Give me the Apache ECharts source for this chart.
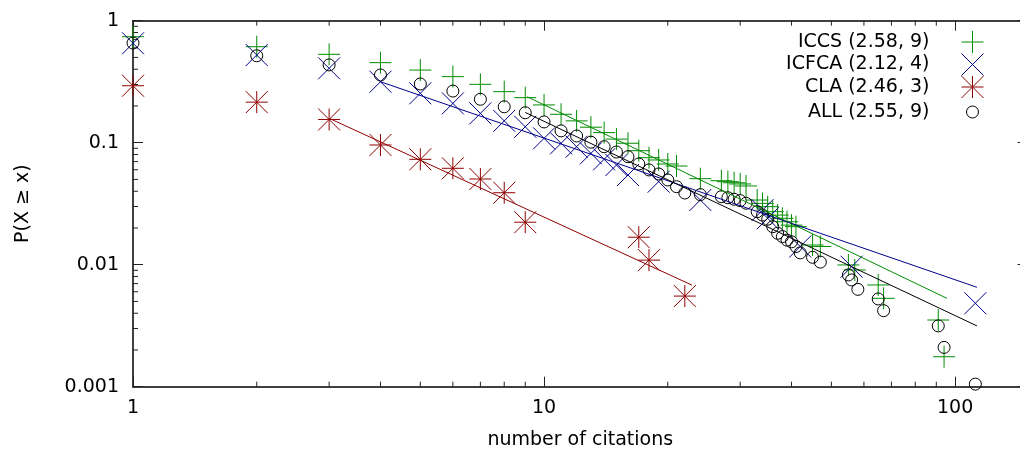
<!DOCTYPE html>
<html>
  <head>
    <meta charset="UTF-8">
    <title>citations</title>
    <style type="text/css">
      * {margin: 0; padding: 0;}
      body {background: #fff;}
    </style>
  </head>
  <body>
    <div id="chart" style="width:1020px;height:451px"></div>

    <script src="https://cdn.jsdelivr.net/npm/echarts@6/dist/echarts.min.js" charset="utf-8"></script>
    <script type="text/javascript">
      // P(X >= x), [citations, probability]
      var iccs = [[1,0.739],[2,0.612],[3,0.53],[4,0.453],[5,0.394],[6,0.348],[7,0.301],[8,0.262],
        [9,0.234],[10,0.204],[11,0.171],[12,0.151],[13,0.134],[14,0.121],[15,0.107],[16,0.099],
        [17,0.086],[18,0.0754],[19,0.0722],[20,0.0669],[21,0.0644],[24,0.0507],[27,0.0488],
        [28,0.0479],[29,0.047],[30,0.0459],[31,0.0442],[33,0.0339],[34,0.0318],[35,0.0299],
        [36,0.0272],[37,0.0255],[38,0.024],[39,0.0225],[40,0.0211],[41,0.0205],[45,0.0145],
        [47,0.0141],[55,0.00995],[57,0.00905],[65,0.00682],[67,0.0053],[91,0.00352],[94,0.00176]];
      var icfca = [[1,0.653],[2,0.523],[3,0.407],[4,0.316],[5,0.254],[6,0.21],[7,0.174],[8,0.151],
        [9,0.135],[10,0.1086],[11,0.0989],[12,0.0927],[13,0.0818],[14,0.0731],[15,0.0656],
        [16,0.0543],[19,0.0479],[24,0.0339],[34,0.028],[35,0.024],[42,0.0141],[56,0.00963],[112,0.00483]];
      var cla = [[1,0.293],[2,0.215],[3,0.155],[4,0.0958],[5,0.0731],[6,0.0617],[7,0.0504],
        [8,0.0389],[9,0.0223],[17,0.0168],[18,0.0109],[22,0.00553]];
      var all = [[1,0.656],[2,0.516],[3,0.434],[4,0.359],[5,0.303],[6,0.265],[7,0.227],[8,0.197],
        [9,0.176],[10,0.148],[11,0.125],[12,0.1135],[13,0.101],[14,0.0927],[15,0.0839],[16,0.0768],
        [17,0.0669],[18,0.0598],[19,0.0554],[20,0.0495],[21,0.0436],[22,0.0387],[24,0.0375],
        [27,0.0361],[28,0.0354],[29,0.0344],[30,0.0335],[31,0.0319],[33,0.0272],[34,0.0255],
        [35,0.0236],[36,0.0205],[37,0.0181],[38,0.017],[39,0.0159],[40,0.0154],[41,0.0141],
        [42,0.0125],[45,0.0115],[47,0.0105],[55,0.00824],[56,0.0075],[58,0.00628],[65,0.00524],
        [67,0.0042],[91,0.00315],[94,0.0021],[112,0.00105]];

      // power-law fit lines, end points
      var iccsFit = [[9.1,0.238],[95.5,0.0053]];
      var icfcaFit = [[4,0.316],[113,0.00653]];
      var claFit = [[3,0.1585],[22.9,0.0068]];
      var allFit = [[9,0.177],[113,0.00315]];

      var names = ['ICCS (2.58, 9)', 'ICFCA (2.12, 4)', 'CLA (2.46, 3)', 'ALL (2.55, 9)'];

      var xMin = 1, xMax = 150;
      var yMin = 0.001, yMax = 1;
      var minorX = [2,3,4,5,6,7,8,9,20,30,40,50,60,70,80,90];
      var minorY = [0.002,0.003,0.004,0.005,0.006,0.007,0.008,0.009,
        0.02,0.03,0.04,0.05,0.06,0.07,0.08,0.09,0.2,0.3,0.4,0.5,0.6,0.7,0.8,0.9];

      var green = '#008c00', blue = '#00008b', red = '#900000', black = '#000000';
      var font = 'DejaVu Sans';

      var plusPath = 'path://M0,11L22,11M11,0L11,22';
      var crossPath = 'path://M0,0L22,22M22,0L0,22';
      var starPath = 'path://M0,11L22,11M11,0L11,22M0,0L22,22M22,0L0,22';

      function pts(name, data, symbol, size, color) {
        return {
          name: name, type: 'scatter', data: data,
          symbol: symbol, symbolSize: size,
          itemStyle: {color: 'transparent', borderColor: color, borderWidth: 1, opacity: 1},
          emphasis: {disabled: true}
        };
      }
      function fit(data, color) {
        return {
          type: 'line', data: data, showSymbol: false, silent: true,
          lineStyle: {color: color, width: 1}
        };
      }

      function minorTicks(data, isX) {
        return {
          type: 'custom', silent: true,
          data: data.map(function (v) { return isX ? [v, yMin] : [xMin, v]; }),
          renderItem: function (params, api) {
            var a, b, sty = {stroke: '#222', lineWidth: 1};
            if (isX) {
              a = api.coord([api.value(0), yMin]);
              b = api.coord([api.value(0), yMax]);
              return {type: 'group', children: [
                {type: 'line', shape: {x1: a[0], y1: a[1], x2: a[0], y2: a[1] - 5}, style: sty},
                {type: 'line', shape: {x1: b[0], y1: b[1], x2: b[0], y2: b[1] + 5}, style: sty}
              ]};
            }
            a = api.coord([xMin, api.value(1)]);
            b = api.coord([xMax, api.value(1)]);
            return {type: 'group', children: [
              {type: 'line', shape: {x1: a[0], y1: a[1], x2: a[0] + 5, y2: a[1]}, style: sty},
              {type: 'line', shape: {x1: b[0], y1: b[1], x2: b[0] - 5, y2: b[1]}, style: sty}
            ]};
          }
        };
      }

      function legendRow(name, icon, w, top, color, pad) {
        return {
          data: [{name: name, icon: icon,
            itemStyle: {color: 'transparent', borderColor: color, borderWidth: 1}}],
          right: 36 + (22 - w) / 2, top: top - w / 2, padding: 0,
          itemWidth: w, itemHeight: w, align: 'right', selectedMode: false,
          textStyle: {fontFamily: font, fontSize: 19, color: '#000', padding: [0, pad, 0, 0]}
        };
      }

      var axisLine = {show: true, onZero: false, lineStyle: {color: '#000', width: 1.5}};
      var axisTick = {show: true, inside: true, length: 10, lineStyle: {color: '#222', width: 1}};

      var chart = echarts.init(document.getElementById('chart'));
      var option = {
        animation: false,
        backgroundColor: '#fff',
        grid: {left: 133, right: -7.5, top: 20.7, bottom: 64.3, outerBoundsMode: 'none'},
        legend: [
          legendRow(names[0], plusPath, 22, 41.5, green, 27),
          legendRow(names[1], crossPath, 22, 64, blue, 27),
          legendRow(names[2], starPath, 22, 86.5, red, 27),
          legendRow(names[3], 'circle', 12, 108.5, black, 32)
        ],
        xAxis: [
          {
            type: 'log', logBase: 10, min: xMin, max: xMax,
            name: 'number of citations', nameLocation: 'middle', nameGap: 44,
            nameTextStyle: {fontFamily: font, fontSize: 19, color: '#000'},
            axisLine: axisLine, axisTick: axisTick, splitLine: {show: false},
            axisLabel: {
              fontFamily: font, fontSize: 19, color: '#000', margin: 12, showMaxLabel: false,
              formatter: function (v) { return String(Math.round(v)); }
            }
          },
          {
            type: 'log', logBase: 10, min: xMin, max: xMax, position: 'top',
            axisLine: axisLine, axisTick: axisTick, splitLine: {show: false},
            axisLabel: {show: false}
          }
        ],
        yAxis: [
          {
            type: 'log', logBase: 10, min: yMin, max: yMax,
            name: 'P(X \u2265 x)', nameLocation: 'middle', nameGap: 100,
            nameTextStyle: {fontFamily: font, fontSize: 19, color: '#000'},
            axisLine: axisLine, axisTick: axisTick, splitLine: {show: false},
            axisLabel: {
              fontFamily: font, fontSize: 19, color: '#000', margin: 14,
              formatter: function (v) { return String(+v.toPrecision(2)); }
            }
          },
          {
            type: 'log', logBase: 10, min: yMin, max: yMax, position: 'right',
            axisLine: axisLine, axisTick: axisTick, splitLine: {show: false},
            axisLabel: {show: false}
          }
        ],
        series: [
          minorTicks(minorX, true),
          minorTicks(minorY, false),
          pts(names[0], iccs, plusPath, 22, green),
          pts(names[1], icfca, crossPath, 22, blue),
          pts(names[2], cla, starPath, 22, red),
          pts(names[3], all, 'circle', 12, black),
          fit(iccsFit, green),
          fit(icfcaFit, blue),
          fit(claFit, red),
          fit(allFit, black)
        ]
      };

      chart.setOption(option);
    </script>
  </body>
</html>
